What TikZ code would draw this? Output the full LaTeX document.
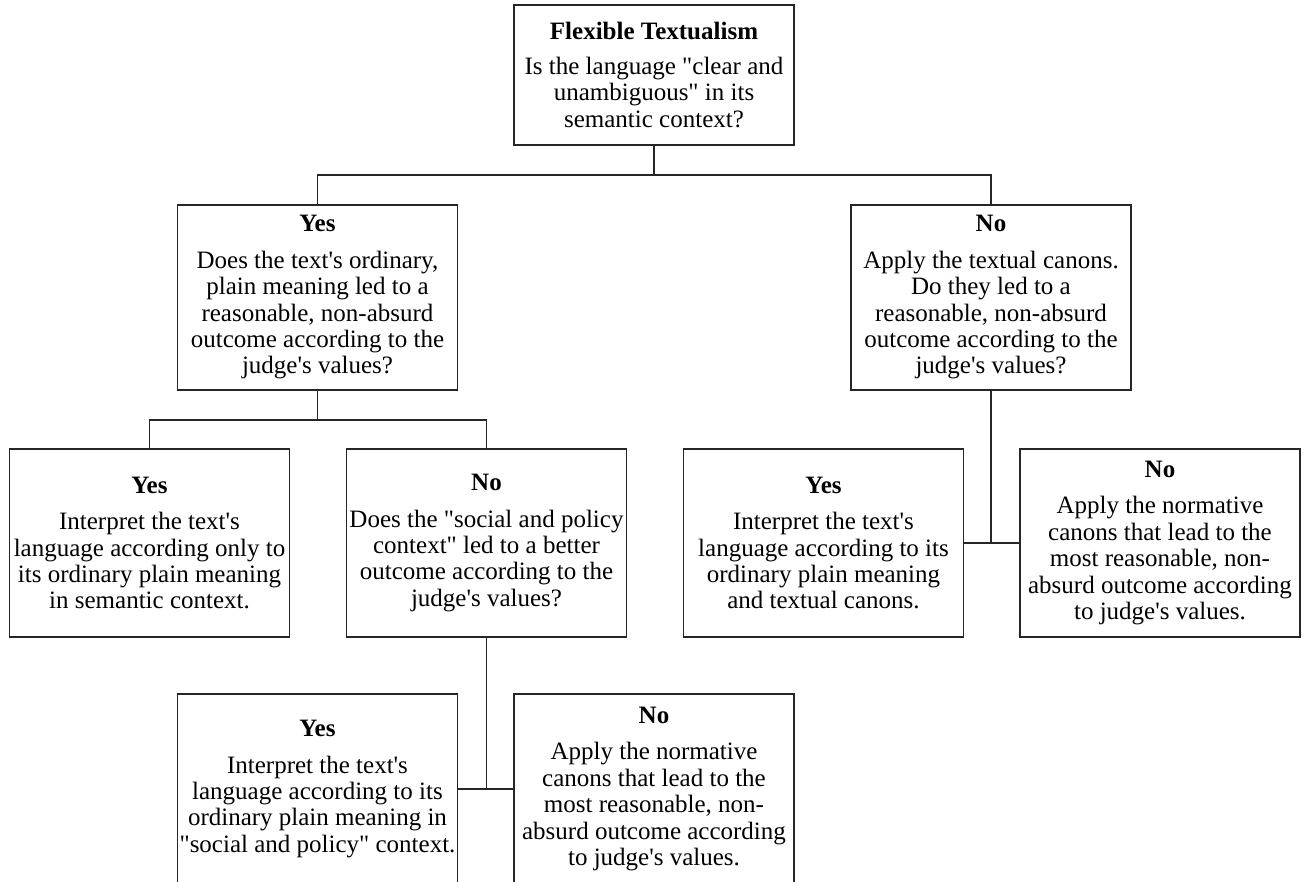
\documentclass[tikz,border=0pt]{standalone}
\usepackage{fontspec}
\setmainfont{Liberation Serif}[Ligatures=TeXOff]
\begin{document}
\begin{tikzpicture}[x=0.5pt,y=-0.5pt]
\tikzset{
  box/.style={draw=black!85, line width=0.9pt, minimum width=140pt, align=center, inner sep=0pt,
    font=\fontsize{12.5}{13.2}\selectfont},
  boxA/.style={box, minimum height=70pt},
  boxB/.style={box, minimum height=92.5pt},
  boxC/.style={box, minimum height=94pt},
  boxD/.style={box, minimum height=95pt},
  conn/.style={draw=black!85, line width=0.9pt}
}
\clip (0,0) rectangle (1308,882);
\useasboundingbox (0,0) rectangle (1308,882);

\node[boxA] (top) at (654,75) {\textbf{Flexible Textualism}\\[4pt]Is the language "clear and\\unambiguous" in its\\semantic context?};

\node[boxB] (b2) at (317.5,297.5) {\textbf{Yes}\\[5pt]Does the text's ordinary,\\plain meaning led to a\\reasonable, non-absurd\\outcome according to the\\judge's values?};
\node[boxB] (b3) at (991,297.5) {\textbf{No}\\[5pt]Apply the textual canons.\\Do they led to a\\reasonable, non-absurd\\outcome according to the\\judge's values?};

\node[boxC] (b4) at (149.5,543) {\textbf{Yes}\\[5pt]Interpret the text's\\language according only to\\its ordinary plain meaning\\in semantic context.};
\node[boxC] (b5) at (486.5,543) {\textbf{No}\\[5pt]Does the "social and policy\\context" led to a better\\outcome according to the\\judge's values?};
\node[boxC] (b6) at (823.5,543) {\textbf{Yes}\\[5pt]Interpret the text's\\language according to its\\ordinary plain meaning\\and textual canons.};
\node[boxC] (b7) at (1160,543) {\textbf{No}\\[5pt]Apply the normative\\canons that lead to the\\most reasonable, non-\\absurd outcome according\\to judge's values.};

\node[boxD] (b8) at (317.5,789) {\textbf{Yes}\\[5pt]Interpret the text's\\language according to its\\ordinary plain meaning in\\"social and policy" context.};
\node[boxD] (b9) at (654,789) {\textbf{No}\\[5pt]Apply the normative\\canons that lead to the\\most reasonable, non-\\absurd outcome according\\to judge's values.};

\coordinate (j1) at (654,175);
\coordinate (j2) at (317.5,420);
\coordinate (j3) at (991,543);
\coordinate (j4) at (486.5,789);

\draw[conn] (top.south) -- (j1);
\draw[conn] (b2.north) |- (j1) -| (b3.north);
\draw[conn] (b2.south) -- (j2);
\draw[conn] (b4.north) |- (j2) -| (b5.north);
\draw[conn] (b3.south) -- (j3);
\draw[conn] (b6.east) -- (b7.west);
\draw[conn] (b5.south) -- (j4);
\draw[conn] (b8.east) -- (b9.west);
\end{tikzpicture}
\end{document}
